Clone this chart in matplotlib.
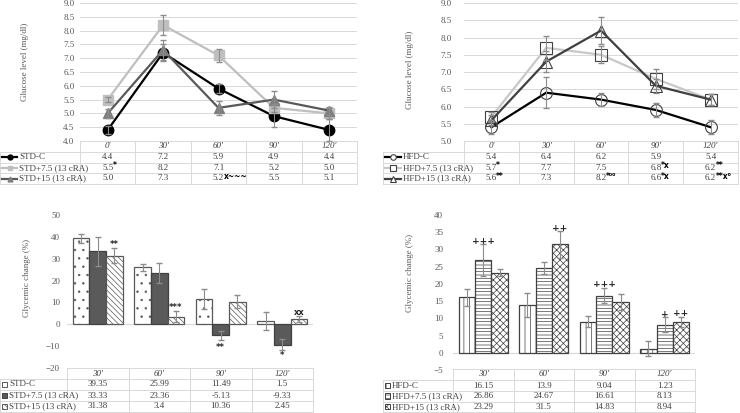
import matplotlib.pyplot as plt
from matplotlib.patches import Rectangle
import numpy as np

plt.rcParams['font.family'] = 'Liberation Serif'
plt.rcParams['hatch.linewidth'] = 0.5

# ---- datos: curvas de glucosa (mg/dl) ----
tiempos_gtt = ["0'", "30'", "60'", "90'", "120'"]

std_nombres = ['STD-C', 'STD+7.5 (13 cRA)', 'STD+15 (13 cRA)']
std_c = [4.4, 7.2, 5.9, 4.9, 4.4]
std_75 = [5.5, 8.2, 7.1, 5.2, 5.0]
std_15 = [5.0, 7.3, 5.2, 5.5, 5.1]
std_c_err = [0.15, 0.3, 0.15, 0.4, 0.4]
std_75_err = [0.1, 0.35, 0.25, 0.15, 0.2]
std_15_err = [0.15, 0.35, 0.25, 0.3, 0.15]
std_sup = {(1, 0): '*', (2, 2): 'x~~~'}

hfd_nombres = ['HFD-C', 'HFD+7.5 (13 cRA)', 'HFD+15 (13 cRA)']
hfd_c = [5.4, 6.4, 6.2, 5.9, 5.4]
hfd_75 = [5.7, 7.7, 7.5, 6.8, 6.2]
hfd_15 = [5.6, 7.3, 8.2, 6.6, 6.2]
hfd_c_err = [0.2, 0.45, 0.18, 0.2, 0.2]
hfd_75_err = [0.15, 0.35, 0.25, 0.3, 0.15]
hfd_15_err = [0.15, 0.3, 0.38, 0.2, 0.15]
hfd_sup = {(1, 0): '*', (1, 3): '*x', (1, 4): '**',
           (2, 0): '**', (2, 2): '*⁰⁰', (2, 3): '*x', (2, 4): '**x⁰'}

# ---- datos: cambio glucémico (%) ----
tiempos_cambio = ["30'", "60'", "90'", "120'"]
cambio_std_c = [39.35, 25.99, 11.49, 1.5]
cambio_std_75 = [33.33, 23.36, -5.13, -9.33]
cambio_std_15 = [31.38, 3.4, 10.36, 2.45]
cambio_std_c_err = [2.0, 1.5, 4.5, 4.0]
cambio_std_75_err = [6.5, 4.5, 2.0, 2.5]
cambio_std_15_err = [3.3, 2.5, 3.0, 1.5]
marcas_std = [(0, 2, 36.5, '**'), (1, 2, 7.5, '***'), (2, 1, -10.5, '**'),
              (3, 1, -14.5, '*'), (3, 2, 5.5, 'xx')]

cambio_hfd_c = [16.15, 13.9, 9.04, 1.23]
cambio_hfd_75 = [26.86, 24.67, 16.61, 8.13]
cambio_hfd_15 = [23.29, 31.5, 14.83, 8.94]
cambio_hfd_c_err = [2.5, 3.5, 1.7, 2.2]
cambio_hfd_75_err = [4.7, 1.8, 2.3, 2.2]
cambio_hfd_15_err = [1.0, 4.0, 2.3, 1.5]
marcas_hfd = [(0, 1, 32.3, '+++'), (1, 2, 36.2, '++'), (2, 1, 19.8, '+++'),
              (3, 1, 11.0, '+'), (3, 2, 11.4, '++')]

W, H = 740, 413
fig = plt.figure(figsize=(7.4, 4.13), dpi=100)
base = fig.add_axes([0, 0, 1, 1])
base.set_xlim(0, W)
base.set_ylim(H, 0)
base.axis('off')

GRIS_TXT = '#404040'
GRIS_TICK = '#595959'
GRIS_REJ = '#d9d9d9'
GRIS_ERR = '#8c8c8c'


def ejes(x0, y0, x1, y1, pad):
    ax = fig.add_axes([x0 / W, 1 - y1 / H, (x1 - x0) / W, (y1 - y0) / H])
    ax.patch.set_visible(False)
    for s in ax.spines.values():
        s.set_visible(False)
    ax.set_xticks([])
    ax.tick_params(axis='y', length=0, labelsize=6.5, labelcolor=GRIS_TICK, pad=pad)
    return ax


def tabla(x_lab, x0, x1, ys, cabecera, filas, nombres, sup, fmt, x_texto):
    n = len(cabecera)
    ancho = (x1 - x0) / n
    for k in range(n + 1):
        base.plot([x0 + k * ancho] * 2, [ys[0], ys[-1]], color=GRIS_REJ, lw=0.7)
    base.plot([x_lab, x_lab], [ys[1], ys[-1]], color=GRIS_REJ, lw=0.7)
    base.plot([x0, x1], [ys[0], ys[0]], color=GRIS_REJ, lw=0.7)
    for y in ys[1:]:
        base.plot([x_lab, x1], [y, y], color=GRIS_REJ, lw=0.7)
    for k, c in enumerate(cabecera):
        base.text(x0 + (k + 0.5) * ancho, (ys[0] + ys[1]) / 2, c, ha='center', va='center',
                  fontsize=6.5, style='italic', color=GRIS_TXT)
    for i, fila in enumerate(filas):
        yc = (ys[i + 1] + ys[i + 2]) / 2
        base.text(x_lab + x_texto, yc, nombres[i], ha='left', va='center',
                  fontsize=6.5, color=GRIS_TXT)
        for k, v in enumerate(fila):
            cx = x0 + (k + 0.5) * ancho
            base.text(cx, yc, fmt(v), ha='center', va='center', fontsize=6.5, color=GRIS_TXT)
            if (i, k) in sup:
                base.text(cx + 5, yc - 2, sup[(i, k)], ha='left', va='center',
                          fontsize=5.5, family='DejaVu Sans', fontweight='bold', color='black')


# ---------- panel 1: STD glucosa ----------
ax1 = ejes(80, 3, 357, 141, 4)
x5 = np.arange(len(tiempos_gtt))
estilos_std = [
    (std_c, std_c_err, 'black', 'o', 'black', 7.5),
    (std_75, std_75_err, '#bfbfbf', 's', '#bfbfbf', 7),
    (std_15, std_15_err, '#595959', '^', '#7f7f7f', 7.5),
]
for vals, err, col, mk, mcol, ms in estilos_std:
    ax1.plot(x5, vals, color=col, lw=1.6, marker=mk, markersize=ms,
             markerfacecolor=mcol, markeredgecolor=mcol)
    ax1.errorbar(x5, vals, yerr=err, fmt='none', ecolor=GRIS_ERR, elinewidth=0.8,
                 capsize=2, zorder=4)
ax1.set_xlim(-0.5, 4.5)
ax1.set_ylim(4, 9)
ax1.set_yticks(np.arange(4, 9.01, 0.5))
ax1.set_yticklabels([f'{t:.1f}' for t in np.arange(4, 9.01, 0.5)])
ax1.yaxis.grid(True, color=GRIS_REJ, lw=0.7)
ax1.set_axisbelow(True)
base.text(25, 62, 'Glucose level (mg/dl)', rotation=90, ha='center', va='center',
          fontsize=6.5, color=GRIS_TICK)
tabla(0, 80, 357, [141, 152, 162.5, 173, 184], tiempos_gtt, [std_c, std_75, std_15],
      std_nombres, std_sup, lambda v: f'{v:.1f}', 19)
for i, (vals, err, col, mk, mcol, ms) in enumerate(estilos_std):
    yc = [157, 167.8, 178.5][i]
    base.plot([2, 17], [yc, yc], color=col, lw=1.6)
    base.plot([9.5], [yc], marker=mk, markersize=3.5, color=mcol)

# ---------- panel 2: HFD glucosa ----------
ax2 = ejes(464, 3, 738, 141, 9)
estilos_hfd = [
    (hfd_c, hfd_c_err, 'black', 'o'),
    (hfd_75, hfd_75_err, '#c8c8c8', 's'),
    (hfd_15, hfd_15_err, '#404040', '^'),
]
for vals, err, col, mk in estilos_hfd:
    ax2.plot(x5, vals, color=col, lw=1.6, marker=mk, markersize=8.5,
             markerfacecolor='none', markeredgecolor='#404040', markeredgewidth=0.8)
    ax2.errorbar(x5, vals, yerr=err, fmt='none', ecolor=GRIS_ERR, elinewidth=0.8,
                 capsize=2, zorder=4)
ax2.set_xlim(-0.5, 4.5)
ax2.set_ylim(5, 9)
ax2.set_yticks(np.arange(5, 9.01, 0.5))
ax2.set_yticklabels([f'{t:.1f}' for t in np.arange(5, 9.01, 0.5)])
ax2.yaxis.grid(True, color=GRIS_REJ, lw=0.7)
ax2.set_axisbelow(True)
base.text(410, 70, 'Glucose level (mg/dl)', rotation=90, ha='center', va='center',
          fontsize=6.5, color=GRIS_TICK)
tabla(383, 464, 738, [141, 152, 162.5, 173, 184], tiempos_gtt, [hfd_c, hfd_75, hfd_15],
      hfd_nombres, hfd_sup, lambda v: f'{v:.1f}', 20)
for i, (vals, err, col, mk) in enumerate(estilos_hfd):
    yc = [157, 167.8, 178.5][i]
    base.plot([385, 401], [yc, yc], color=col, lw=1.6)
    base.plot([393], [yc], marker=mk, markersize=4, markerfacecolor='white',
              markeredgecolor='#404040', markeredgewidth=0.8)

# ---------- panel 3: STD cambio glucémico ----------
ax3 = ejes(67, 215, 313, 368, 5)
x4 = np.arange(len(tiempos_cambio))
w = 0.27
barras_std = [
    (cambio_std_c, cambio_std_c_err, 'white', '..', '#595959'),
    (cambio_std_75, cambio_std_75_err, '#5a5a5a', '', '#404040'),
    (cambio_std_15, cambio_std_15_err, 'white', '\\\\\\\\\\\\', '#595959'),
]
for j, (vals, err, fc, hatch, ec) in enumerate(barras_std):
    ax3.bar(x4 + (j - 1) * w, vals, w, color=fc, hatch=hatch, edgecolor=ec, linewidth=0.9)
    ax3.errorbar(x4 + (j - 1) * w, vals, yerr=err, fmt='none', ecolor=GRIS_ERR,
                 elinewidth=0.8, capsize=2)
ax3.axhline(0, color=GRIS_REJ, lw=0.8, zorder=0)
for g, s, y, t in marcas_std:
    ax3.text(g + (s - 1) * w, y, t, ha='center', va='center', fontsize=6,
             family='DejaVu Sans', fontweight='bold', color='#262626')
ax3.set_xlim(-0.5, 3.5)
ax3.set_ylim(-20, 50)
ax3.set_yticks(np.arange(-20, 51, 10))
base.text(27, 278, 'Glycemic change (%)', rotation=90, ha='center', va='center',
          fontsize=6.5, color=GRIS_TICK)
tabla(0, 67, 313, [368, 379, 390, 401, 412], tiempos_cambio,
      [cambio_std_c, cambio_std_75, cambio_std_15], std_nombres, {}, lambda v: f'{v:g}', 9)
for i, (vals, err, fc, hatch, ec) in enumerate(barras_std):
    yc = [384.5, 395.5, 406.5][i]
    base.add_patch(Rectangle((2, yc - 2.6), 5.2, 5.2, facecolor=fc, hatch=hatch,
                             edgecolor=ec, linewidth=0.7))

# ---------- panel 4: HFD cambio glucémico ----------
ax4 = ejes(453, 215, 695, 370, 7)
barras_hfd = [
    (cambio_hfd_c, cambio_hfd_c_err, 'white', '|||', '#404040'),
    (cambio_hfd_75, cambio_hfd_75_err, 'white', '-----', '#404040'),
    (cambio_hfd_15, cambio_hfd_15_err, 'white', 'xxxxx', '#404040'),
]
for j, (vals, err, fc, hatch, ec) in enumerate(barras_hfd):
    ax4.bar(x4 + (j - 1) * w, vals, w, color=fc, hatch=hatch, edgecolor=ec, linewidth=0.9)
    ax4.errorbar(x4 + (j - 1) * w, vals, yerr=err, fmt='none', ecolor=GRIS_ERR,
                 elinewidth=0.8, capsize=2)
ax4.axhline(0, color=GRIS_REJ, lw=0.8, zorder=0)
for g, s, y, t in marcas_hfd:
    ax4.text(g + (s - 1) * w, y, t, ha='center', va='center', fontsize=6.5,
             family='DejaVu Sans', fontweight='bold', color='#262626')
ax4.set_xlim(-0.5, 3.5)
ax4.set_ylim(-5, 40)
ax4.set_yticks(np.arange(-5, 41, 5))
base.text(410, 273, 'Glycemic change (%)', rotation=90, ha='center', va='center',
          fontsize=6.5, color=GRIS_TICK)
tabla(383, 453, 695, [369, 380, 391, 401.5, 412], tiempos_cambio,
      [cambio_hfd_c, cambio_hfd_75, cambio_hfd_15], hfd_nombres, {}, lambda v: f'{v:g}', 9)
for i, (vals, err, fc, hatch, ec) in enumerate(barras_hfd):
    yc = [385.5, 396, 406.7][i]
    base.add_patch(Rectangle((385, yc - 2.6), 5.2, 5.2, facecolor=fc, hatch=hatch,
                             edgecolor=ec, linewidth=0.7))

fig.savefig('out.png', dpi=100)
